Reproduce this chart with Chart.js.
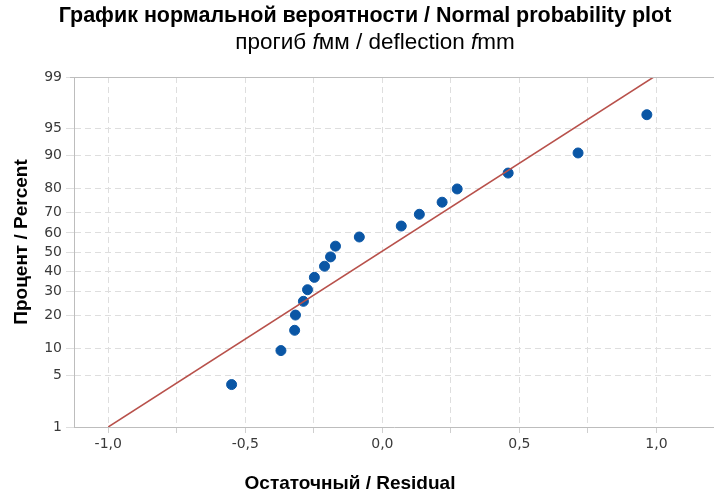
<!DOCTYPE html>
<html>
<head>
<meta charset="utf-8">
<script src="https://cdn.jsdelivr.net/npm/chart.js@4.4.1/dist/chart.umd.min.js"></script>
<style>
  html, body { margin: 0; padding: 0; background: #fff; }
  #wrap { width: 714px; height: 494px; }
</style>
</head>
<body>
<div id="wrap"><canvas id="probChart" width="714" height="494"></canvas></div>
<script>
// residuals, with their plotted percent
const residuals = [-0.55, -0.37, -0.32, -0.317, -0.288, -0.273, -0.248, -0.211, -0.189, -0.171, -0.084, 0.069, 0.135, 0.218, 0.273, 0.459, 0.714, 0.965];
const percents  = [3.9, 9.5, 14.9, 20.1, 25.6, 30.8, 36.8, 42.5, 47.4, 53.1, 57.9, 63.5, 69.2, 74.6, 79.9, 85.3, 90.6, 96.6];
// fitted line ends
const lineX = [-1.0, 0.99];
const lineP = [1, 99];
const percentTicks = [1, 5, 10, 20, 30, 40, 50, 60, 70, 80, 90, 95, 99];
const residualTicks = [-1.0, -0.75, -0.5, -0.25, 0.0, 0.25, 0.5, 0.75, 1.0];

// inverse of standard normal cdf (Acklam)
function probit(p) {
    const a = [-39.6968302866538, 220.946098424521, -275.928510446969, 138.357751867269, -30.6647980661472, 2.50662827745924];
    const b = [-54.4760987982241, 161.585836858041, -155.698979859887, 66.8013118877197, -13.2806815528857];
    const c = [-0.00778489400243029, -0.322396458041136, -2.40075827716184, -2.54973253934373, 4.37466414146497, 2.93816398269878];
    const d = [0.00778469570904146, 0.32246712907004, 2.445134137143, 3.75440866190742];
    const pl = 0.02425;
    let q, r;
    if (p < pl) {
        q = Math.sqrt(-2 * Math.log(p));
        return (((((c[0]*q+c[1])*q+c[2])*q+c[3])*q+c[4])*q+c[5]) / ((((d[0]*q+d[1])*q+d[2])*q+d[3])*q+1);
    } else if (p <= 1 - pl) {
        q = p - 0.5; r = q * q;
        return (((((a[0]*r+a[1])*r+a[2])*r+a[3])*r+a[4])*r+a[5])*q / (((((b[0]*r+b[1])*r+b[2])*r+b[3])*r+b[4])*r+1);
    } else {
        q = Math.sqrt(-2 * Math.log(1 - p));
        return -(((((c[0]*q+c[1])*q+c[2])*q+c[3])*q+c[4])*q+c[5]) / ((((d[0]*q+d[1])*q+d[2])*q+d[3])*q+1);
    }
}

const pointData = residuals.map((x, i) => ({ x: x, y: probit(percents[i] / 100) }));
const lineData = lineX.map((x, i) => ({ x: x, y: probit(lineP[i] / 100) }));

const titleFont = '"Liberation Sans", Arial, sans-serif';

// titles are drawn by hand: subtitle needs italic f, axis titles are off-centre
const titlesPlugin = {
    id: 'titles',
    afterDraw(chart) {
        const ctx = chart.ctx;
        const area = chart.chartArea;
        ctx.save();
        // top border of the plot
        ctx.strokeStyle = '#bdbdbd';
        ctx.lineWidth = 1;
        ctx.beginPath();
        ctx.moveTo(area.left - 4, area.top + 0.5);
        ctx.lineTo(area.right, area.top + 0.5);
        ctx.stroke();

        ctx.fillStyle = '#000';
        ctx.textBaseline = 'middle';
        ctx.textAlign = 'center';
        ctx.font = 'bold 21.5px ' + titleFont;
        ctx.fillText('График нормальной вероятности / Normal probability plot', 365, 16);

        // subtitle in parts
        const parts = [
            ['прогиб ', 'normal'], ['f', 'italic'], ['мм / deflection ', 'normal'], ['f', 'italic'], ['mm', 'normal']
        ];
        let total = 0;
        parts.forEach(p => {
            ctx.font = p[1] + ' 22.5px ' + titleFont;
            total += ctx.measureText(p[0]).width;
        });
        let x = 375 - total / 2;
        ctx.textAlign = 'left';
        parts.forEach(p => {
            ctx.font = p[1] + ' 22.5px ' + titleFont;
            ctx.fillText(p[0], x, 43);
            x += ctx.measureText(p[0]).width;
        });

        ctx.textAlign = 'center';
        ctx.font = 'bold 19px ' + titleFont;
        ctx.fillText('Остаточный / Residual', 350, 484);

        ctx.translate(22, 242);
        ctx.rotate(-Math.PI / 2);
        ctx.fillText('Процент / Percent', 0, 0);
        ctx.restore();
    }
};

var ctx = document.getElementById('probChart').getContext('2d');
var myChart = new Chart(ctx, {
    type: 'scatter',
    data: {
        datasets: [
            {
                label: 'fit',
                type: 'line',
                data: lineData,
                borderColor: '#b8514b',
                borderWidth: 1.5,
                pointRadius: 0,
                fill: false
            },
            {
                label: 'residuals',
                data: pointData,
                backgroundColor: '#0a56a5',
                borderColor: '#0a56a5',
                pointRadius: 5,
                pointHoverRadius: 5
            }
        ]
    },
    plugins: [titlesPlugin],
    options: {
        responsive: false,
        animation: false,
        layout: { autoPadding: false, padding: { top: 77, left: 0, right: 0, bottom: 0 } },
        scales: {
            x: {
                type: 'linear',
                min: -1.125,
                max: 1.21,
                afterBuildTicks: function(scale) {
                    scale.ticks = residualTicks.map(v => ({ value: v }));
                },
                afterFit: function(scale) {
                    scale.height = 67;
                    scale.paddingLeft = 0;
                    scale.paddingRight = 0;
                },
                ticks: {
                    autoSkip: false,
                    maxRotation: 0,
                    padding: 3,
                    color: '#3a3a3a',
                    font: { family: '"DejaVu Sans", Tahoma, sans-serif', size: 14 },
                    callback: function(value) {
                        if (Math.abs(value * 2 - Math.round(value * 2)) > 1e-6) return '';
                        return value.toFixed(1).replace('.', ',');
                    }
                },
                grid: {
                    color: '#dedede',
                    tickColor: '#cfcfcf',
                    tickLength: 6,
                    drawTicks: true
                },
                border: { color: '#bdbdbd', dash: [6, 4] }
            },
            y: {
                type: 'linear',
                min: probit(0.01),
                max: probit(0.99),
                afterBuildTicks: function(scale) {
                    scale.ticks = percentTicks.map(p => ({ value: probit(p / 100) }));
                },
                afterFit: function(scale) {
                    scale.width = 74;
                    scale.paddingTop = 0;
                    scale.paddingBottom = 0;
                },
                ticks: {
                    autoSkip: false,
                    padding: 4,
                    color: '#3a3a3a',
                    font: { family: '"DejaVu Sans", Tahoma, sans-serif', size: 14 },
                    callback: function(value, index) {
                        return String(percentTicks[index]);
                    }
                },
                grid: {
                    color: '#dedede',
                    tickColor: '#dedede',
                    tickLength: 8
                },
                border: { color: '#bdbdbd', dash: [6, 4] }
            }
        },
        plugins: {
            legend: { display: false },
            tooltip: { enabled: false }
        }
    }
});
</script>
</body>
</html>
